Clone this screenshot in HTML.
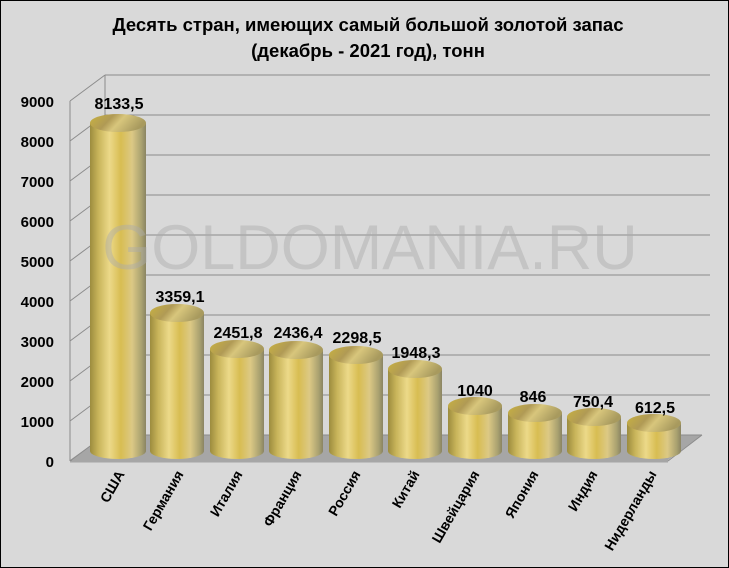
<!DOCTYPE html>
<html><head><meta charset="utf-8"><style>
html,body{margin:0;padding:0;background:#d9d9d9}
svg{display:block}
text{font-family:"Liberation Sans","DejaVu Sans",sans-serif;font-weight:bold}
</style></head><body>
<svg width="729" height="568" viewBox="0 0 729 568" xmlns="http://www.w3.org/2000/svg">
<defs>
<linearGradient id="cyl" x1="0" x2="1" y1="0" y2="0">
<stop offset="0" stop-color="#9c8c3e"/>
<stop offset="0.15" stop-color="#c8b45a"/>
<stop offset="0.35" stop-color="#ecd989"/>
<stop offset="0.55" stop-color="#d8bd52"/>
<stop offset="0.75" stop-color="#dcc985"/>
<stop offset="0.92" stop-color="#a9a170"/>
<stop offset="1" stop-color="#8a8462"/>
</linearGradient>
<linearGradient id="top" x1="0" x2="1" y1="0" y2="0.3">
<stop offset="0" stop-color="#c9b240"/>
<stop offset="0.4" stop-color="#b09a55"/>
<stop offset="0.6" stop-color="#d8c67c"/>
<stop offset="1" stop-color="#a89a5e"/>
</linearGradient>
</defs>
<rect x="0.5" y="0.5" width="728" height="567" fill="#d9d9d9" stroke="#000" stroke-width="1"/>
<text x="368" y="31" font-size="18.5" text-anchor="middle" fill="#000">Десять стран, имеющих самый большой золотой запас</text>
<text x="368" y="57" font-size="18.5" text-anchor="middle" fill="#000">(декабрь - 2021 год), тонн</text>
<polygon points="70,460 668,460 702,435 105,435" fill="#a6a6a6"/>
<polygon points="70,460 668,460 668,463 70,463" fill="#bfbfbf"/>
<g stroke="#8c8c8c" stroke-width="1" fill="none">
<line x1="105" y1="75" x2="710" y2="75"/>
<line x1="105" y1="115" x2="710" y2="115"/>
<line x1="105" y1="155" x2="710" y2="155"/>
<line x1="105" y1="195" x2="710" y2="195"/>
<line x1="105" y1="235" x2="710" y2="235"/>
<line x1="105" y1="275" x2="710" y2="275"/>
<line x1="105" y1="315" x2="710" y2="315"/>
<line x1="105" y1="355" x2="710" y2="355"/>
<line x1="105" y1="395" x2="710" y2="395"/>
<line x1="105" y1="435" x2="702" y2="435"/>
<line x1="105" y1="75" x2="105" y2="435"/>
<line x1="70" y1="101" x2="105" y2="75"/><line x1="70" y1="141" x2="105" y2="115"/>
<line x1="70" y1="181" x2="105" y2="155"/><line x1="70" y1="221" x2="105" y2="195"/>
<line x1="70" y1="261" x2="105" y2="235"/><line x1="70" y1="301" x2="105" y2="275"/>
<line x1="70" y1="341" x2="105" y2="315"/><line x1="70" y1="381" x2="105" y2="355"/>
<line x1="70" y1="421" x2="105" y2="395"/><line x1="70" y1="461" x2="105" y2="435"/>
<line x1="70" y1="101" x2="70" y2="461"/>
<line x1="70" y1="461" x2="668" y2="461"/>
<line x1="668" y1="461" x2="702" y2="435"/>
</g>
<g font-size="15" text-anchor="end" fill="#000">
<text x="54" y="107">9000</text><text x="54" y="147">8000</text><text x="54" y="187">7000</text>
<text x="54" y="227">6000</text><text x="54" y="267">5000</text><text x="54" y="307">4000</text>
<text x="54" y="347">3000</text><text x="54" y="387">2000</text><text x="54" y="427">1000</text>
<text x="54" y="467">0</text>
</g>
<g>
<path d="M90,123 V451 A28,8 0 0 0 146,451 V123 Z" fill="url(#cyl)"/><ellipse cx="118" cy="123" rx="28" ry="9" fill="url(#top)"/>
<path d="M150,313 V451 A27,8 0 0 0 204,451 V313 Z" fill="url(#cyl)"/><ellipse cx="177" cy="313" rx="27" ry="9" fill="url(#top)"/>
<path d="M210,349 V451 A27,8 0 0 0 264,451 V349 Z" fill="url(#cyl)"/><ellipse cx="237" cy="349" rx="27" ry="9" fill="url(#top)"/>
<path d="M269,350 V451 A27,8 0 0 0 323,451 V350 Z" fill="url(#cyl)"/><ellipse cx="296" cy="350" rx="27" ry="9" fill="url(#top)"/>
<path d="M329,355 V451 A27,8 0 0 0 383,451 V355 Z" fill="url(#cyl)"/><ellipse cx="356" cy="355" rx="27" ry="9" fill="url(#top)"/>
<path d="M388,369 V451 A27,8 0 0 0 442,451 V369 Z" fill="url(#cyl)"/><ellipse cx="415" cy="369" rx="27" ry="9" fill="url(#top)"/>
<path d="M448,406 V451 A27,8 0 0 0 502,451 V406 Z" fill="url(#cyl)"/><ellipse cx="475" cy="406" rx="27" ry="9" fill="url(#top)"/>
<path d="M508,413 V451 A27,8 0 0 0 562,451 V413 Z" fill="url(#cyl)"/><ellipse cx="535" cy="413" rx="27" ry="9" fill="url(#top)"/>
<path d="M567,417 V451 A27,8 0 0 0 621,451 V417 Z" fill="url(#cyl)"/><ellipse cx="594" cy="417" rx="27" ry="9" fill="url(#top)"/>
<path d="M627,423 V451 A27,8 0 0 0 681,451 V423 Z" fill="url(#cyl)"/><ellipse cx="654" cy="423" rx="27" ry="9" fill="url(#top)"/>
</g>
<text x="370" y="269" font-size="63" text-anchor="middle" fill="#aaaaaa" fill-opacity="0.45" style="font-weight:normal">GOLDOMANIA.RU</text>
<g font-size="16" text-anchor="middle" fill="#000">
<text x="119" y="109">8133,5</text>
<text x="180" y="302">3359,1</text>
<text x="238" y="338">2451,8</text>
<text x="298" y="338">2436,4</text>
<text x="357" y="343">2298,5</text>
<text x="416" y="358">1948,3</text>
<text x="475" y="396">1040</text>
<text x="533" y="402">846</text>
<text x="593" y="407">750,4</text>
<text x="655" y="413">612,5</text>
</g>
<g font-size="14" text-anchor="end" fill="#000">
<text transform="translate(125,474) rotate(-60)">США</text>
<text transform="translate(184,474) rotate(-60)">Германия</text>
<text transform="translate(243,474) rotate(-60)">Италия</text>
<text transform="translate(302,474) rotate(-60)">Франция</text>
<text transform="translate(361,474) rotate(-60)">Россия</text>
<text transform="translate(420,474) rotate(-60)">Китай</text>
<text transform="translate(480,474) rotate(-60)">Швейцария</text>
<text transform="translate(539,474) rotate(-60)">Япония</text>
<text transform="translate(598,474) rotate(-60)">Индия</text>
<text transform="translate(657,474) rotate(-60)">Нидерланды</text>
</g>
</svg>
</body></html>
